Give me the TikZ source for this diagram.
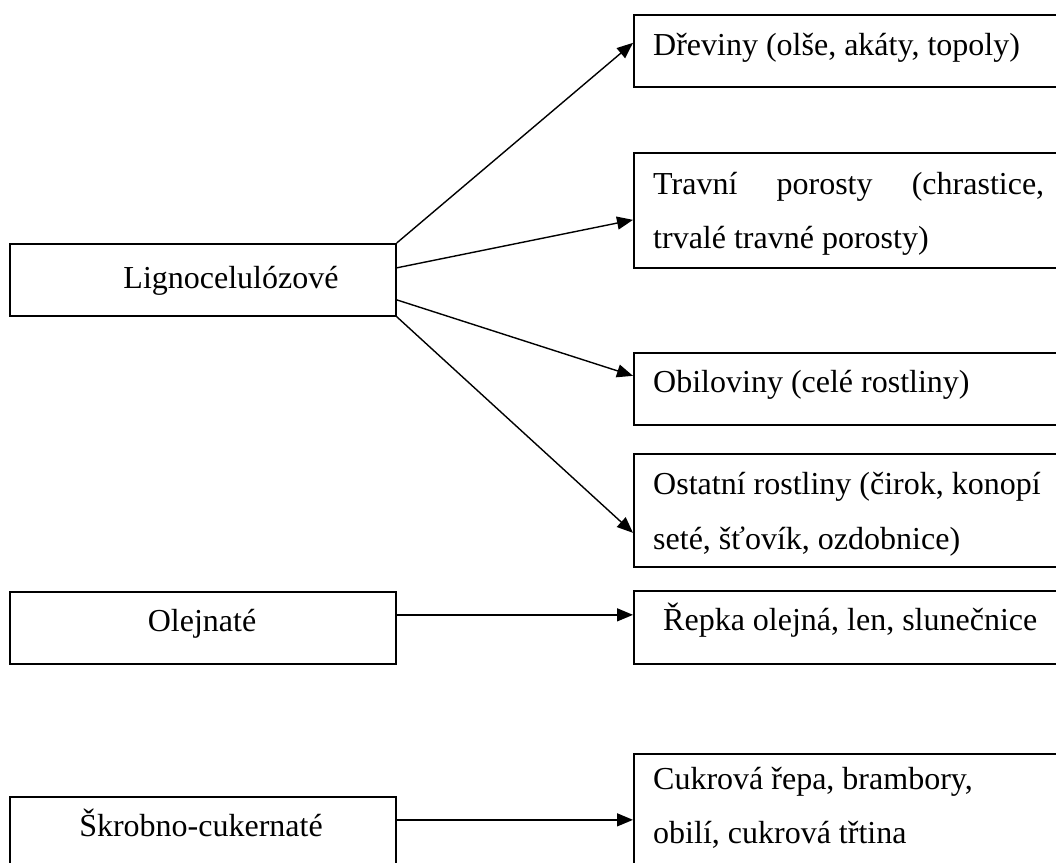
\documentclass[tikz,border=0pt]{standalone}
\usepackage{fontspec}
\setmainfont{Liberation Serif}
\usetikzlibrary{arrows.meta}
\begin{document}
\begin{tikzpicture}[x=1pt,y=-1pt,
  box/.style={draw=black,line width=1.7pt,rectangle,inner sep=0pt,anchor=north west},
  txt/.style={inner sep=0pt,font=\fontsize{32}{55}\selectfont},
  conn/.style={line width=1.4pt,-{Triangle[length=16pt,width=13pt]}}]
\useasboundingbox (0,0) rectangle (1056,862);
% left boxes
\node[box,minimum width=386pt,minimum height=72pt] (lig) at (9,243) {};
\node[box,minimum width=386pt,minimum height=72pt] (ole) at (9,591) {};
\node[box,minimum width=386pt,minimum height=74pt] (skr) at (9,796) {};
% right boxes
\node[box,minimum width=440pt,minimum height=72pt] (dre) at (633,14) {};
\node[box,minimum width=440pt,minimum height=115pt] (tra) at (633,152) {};
\node[box,minimum width=440pt,minimum height=72pt] (obi) at (633,352) {};
\node[box,minimum width=440pt,minimum height=113pt] (ost) at (633,453) {};
\node[box,minimum width=440pt,minimum height=73pt] (rep) at (633,590) {};
\node[box,minimum width=440pt,minimum height=117pt] (cuk) at (633,753) {};
% texts
\node[txt,anchor=base] (tlig) at (231,288) {Lignocelulózové};
\node[txt,anchor=base] (tole) at (202,631) {Olejnaté};
\node[txt,anchor=base] (tskr) at (201,836) {Škrobno-cukernaté};
\node[txt,anchor=base west] (tdre) at (653,55) {Dřeviny (olše, akáty, topoly)};
\node[txt,anchor=base west] (ttra1) at (653,194) {\hbox to 391pt{Travní\hfill porosty\hfill (chrastice,}};
\node[txt,anchor=base west] (ttra2) at (653,248) {trvalé travné porosty)};
\node[txt,anchor=base west] (tobi) at (653,392) {Obiloviny (celé rostliny)};
\node[txt,anchor=base west] (tost1) at (653,494) {Ostatní rostliny (čirok, konopí};
\node[txt,anchor=base west] (tost2) at (653,549) {seté, šťovík, ozdobnice)};
\node[txt,anchor=base west] (trep) at (663,630) {Řepka olejná, len, slunečnice};
\node[txt,anchor=base west] (tcuk1) at (653,789) {Cukrová řepa, brambory,};
\node[txt,anchor=base west] (tcuk2) at (653,843) {obilí, cukrová třtina};
% connectors
\draw[conn] (lig.north east) -- ([yshift=8pt]dre.west);
\draw[conn] ([yshift=12pt]lig.east) -- ([yshift=-9.5pt]tra.west);
\draw[conn] ([yshift=-20pt]lig.east) -- ([yshift=13pt]obi.west);
\draw[conn] (lig.south east) -- ([yshift=-22.5pt]ost.west);
\draw[conn] ([yshift=13pt]ole.east) -- ([yshift=12.5pt]rep.west);
\draw[conn] ([yshift=14pt]skr.east) -- ([yshift=-7.5pt]cuk.west);
\end{tikzpicture}
\end{document}
